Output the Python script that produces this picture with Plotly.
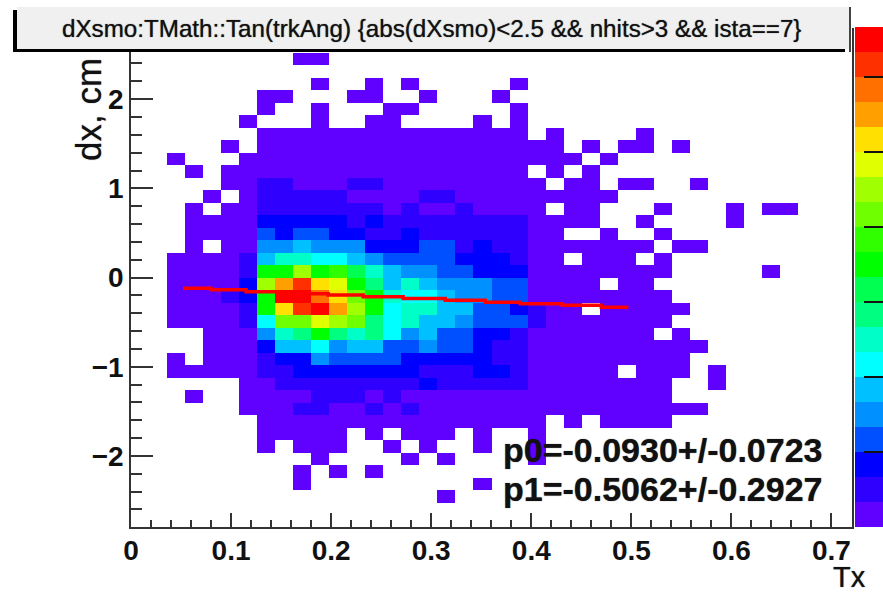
import numpy as np
import plotly.graph_objects as go

TITLE = "dXsmo:TMath::Tan(trkAng) {abs(dXsmo)<2.5 && nhits>3 && ista==7}"
X_LABEL = "Tx"
Y_LABEL = "dx, cm"
STAT_P0 = "p0=-0.0930+/-0.0723"
STAT_P1 = "p1=-0.5062+/-0.2927"

X_TICKS = [0, 0.1, 0.2, 0.3, 0.4, 0.5, 0.6, 0.7]
X_TICK_TEXT = ["<b>0</b>", "<b>0.1</b>", "<b>0.2</b>", "<b>0.3</b>", "<b>0.4</b>", "<b>0.5</b>", "<b>0.6</b>", "<b>0.7</b>"]
Y_TICKS = [-2, -1, 0, 1, 2]
Y_TICK_TEXT = ["<b>\u22122</b>", "<b>\u22121</b>", "<b>0</b>", "<b>1</b>", "<b>2</b>"]

PALETTE = ["#6000ff", "#3000ff", "#0000ff", "#0050ff", "#0090ff", "#00c0ff", "#00ffff",
           "#00ffc8", "#00ff80", "#00ff50", "#00ff00", "#30ff00", "#70ff00", "#a0ff00",
           "#e0ff00", "#ffe000", "#ffa000", "#ff7000", "#ff3000", "#ff0000"]

N_X, N_Y = 40, 40
FIRST_ROW = 2   # rows counted from the top of the histogram

# occupied column spans per row, top to bottom
occupied = [
    [(9, 10)],
    [],
    [(10, 10), (13, 13), (15, 15), (21, 21)],
    [(7, 8), (12, 13), (16, 16), (20, 20)],
    [(7, 7), (10, 10), (14, 15), (21, 21)],
    [(6, 6), (10, 10), (13, 14), (19, 19), (21, 21)],
    [(7, 21), (23, 23), (28, 28)],
    [(5, 5), (7, 23), (25, 25), (27, 28), (30, 30)],
    [(2, 2), (6, 24), (26, 26)],
    [(3, 3), (5, 21), (23, 23), (25, 25)],
    [(5, 22), (24, 25), (27, 28), (31, 31)],
    [(4, 4), (6, 26)],
    [(3, 3), (5, 22), (24, 25), (29, 29), (33, 33), (35, 36)],
    [(3, 25), (28, 28), (33, 33)],
    [(3, 23), (26, 26), (29, 29)],
    [(3, 3), (5, 28), (30, 31)],
    [(2, 23), (25, 27), (29, 29)],
    [(2, 29), (35, 35)],
    [(2, 25), (27, 28)],
    [(2, 29)],
    [(2, 24), (26, 30)],
    [(2, 29)],
    [(4, 28), (30, 30)],
    [(4, 31)],
    [(2, 2), (4, 30)],
    [(2, 26), (28, 30), (32, 32)],
    [(6, 29), (32, 32)],
    [(3, 3), (6, 29)],
    [(6, 31)],
    [(7, 22), (24, 24), (26, 29)],
    [(7, 11), (13, 13), (15, 17), (19, 19), (22, 22)],
    [(7, 7), (9, 11), (14, 14), (16, 16), (19, 19), (22, 22)],
    [(10, 10), (15, 15), (17, 17), (22, 22)],
    [(9, 9), (11, 11), (13, 13)],
    [(9, 9), (19, 19)],
    [(17, 17)],
]

# row -> (first column, colour levels); everything else occupied is level 0
core = {
    10: (7, [1, 1, 0, 0, 0, 1, 1]),
    11: (7, [1, 1, 1, 1, 1, 0, 0, 0, 0, 1, 1]),
    12: (7, [1, 1, 1, 1, 1, 1, 1, 0, 1, 0, 0, 1]),
    13: (7, [2, 2, 2, 2, 2, 1, 2, 1, 1, 1, 1, 1, 1, 1, 1]),
    14: (7, [3, 2, 3, 3, 2, 2, 1, 1, 2, 1, 1, 1, 1, 1, 1]),
    15: (7, [4, 4, 5, 4, 4, 4, 2, 2, 2, 3, 3, 1, 2, 1, 1]),
    16: (6, [1, 5, 7, 7, 6, 6, 5, 4, 3, 3, 3, 3, 2, 2, 2, 1]),
    17: (6, [1, 10, 10, 13, 10, 11, 9, 7, 5, 4, 4, 3, 3, 2, 2, 2]),
    18: (6, [2, 13, 16, 18, 15, 14, 10, 8, 5, 7, 5, 4, 4, 4, 3, 3]),
    19: (5, [1, 2, 10, 19, 19, 17, 15, 12, 10, 7, 6, 6, 5, 4, 4, 3, 3]),
    20: (6, [1, 10, 15, 18, 19, 16, 13, 10, 6, 7, 7, 5, 5, 3, 3, 2, 1]),
    21: (6, [1, 6, 12, 12, 14, 13, 12, 8, 6, 7, 5, 5, 4, 3, 3, 3, 1]),
    22: (7, [4, 7, 8, 10, 8, 7, 8, 6, 4, 5, 3, 3, 2, 2, 1]),
    23: (7, [2, 5, 5, 6, 4, 5, 5, 3, 3, 4, 3, 3, 2, 1, 1]),
    24: (7, [1, 2, 2, 4, 3, 3, 3, 3, 2, 2, 2, 2, 2, 1, 1]),
    25: (7, [1, 1, 2, 2, 2, 2, 2, 2, 2, 1, 1, 1, 2, 2, 1]),
    26: (8, [1, 1, 1, 1, 1, 1, 1, 1, 2, 1, 1, 1, 1, 1]),
    27: (10, [1, 1, 1, 0, 1]),
    28: (9, [1, 1, 0, 0, 1, 0, 1]),
}

# fitted line as drawn (stepped)
fit_x = [0.052, 0.080, 0.115, 0.156, 0.197, 0.232, 0.272, 0.314, 0.354, 0.389, 0.431, 0.470, 0.497]
fit_y = [-0.119, -0.138, -0.160, -0.181, -0.197, -0.216, -0.234, -0.254, -0.276, -0.293, -0.310, -0.333, -0.333]

COLORBAR_TICKS = [-0.5, 2.5, 5.5, 8.5, 11.5, 14.5, 17.5]

# ---------------------------------------------------------------- layout in pixels
W, H = 883, 613
ML = 10          # left margin kept so that nothing pushes the plot area sideways
L, R, T, B = 131.0, 851.5, 27.8, 527.3


def px(v):
    return (v - ML) / (W - ML)


def py(v):
    return 1 - v / H


z = np.full((N_Y, N_X), np.nan)
for i, spans in enumerate(occupied):
    for a, b in spans:
        z[i + FIRST_ROW, a:b + 1] = 0
for i, (start, levels) in core.items():
    z[i + FIRST_ROW, start:start + len(levels)] = levels
z_flipped = z[::-1]

x_edges = np.linspace(0, 0.72, N_X + 1)
y_edges = np.linspace(-2.8, 2.8, N_Y + 1)

n = len(PALETTE)
scale = []
for i, c in enumerate(PALETTE):
    scale += [[i / n, c], [(i + 1) / n, c]]

fig = go.Figure()
fig.add_trace(go.Heatmap(
    x=x_edges, y=y_edges, z=z_flipped, zmin=-0.5, zmax=n - 0.5, colorscale=scale,
    hoverongaps=False, showscale=False, xaxis="x", yaxis="y",
))
fig.add_trace(go.Scatter(x=fit_x, y=fit_y, mode="lines", line=dict(color="#ff0000", width=3.5, shape="hv"),
                         showlegend=False, xaxis="x", yaxis="y"))
# palette strip
levels = list(range(n))
fig.add_trace(go.Heatmap(
    x=[0, 1], y=np.arange(n + 1) - 0.5, z=[[v] for v in levels], zmin=-0.5, zmax=n - 0.5, colorscale=scale,
    showscale=False, xaxis="x2", yaxis="y2",
))

fig.update_layout(
    xaxis=dict(
        domain=[px(L), px(R)], anchor="y",
        range=[0, 0.72], tickmode="array", tickvals=X_TICKS, ticktext=X_TICK_TEXT,
        ticks="inside", ticklen=15, tickwidth=1.5, tickcolor="#333",
        minor=dict(ticks="inside", ticklen=8, dtick=0.02, tickwidth=1.5, tickcolor="#333", showgrid=False),
        showgrid=False, zeroline=False, showline=True, linecolor="#333", linewidth=1.5,
        tickfont=dict(family="Liberation Sans", size=28, color="#111"), ticklabelstandoff=-3,
    ),
    yaxis=dict(
        domain=[py(B), py(T)], anchor="x",
        range=[-2.8, 2.8], tickmode="array", tickvals=Y_TICKS, ticktext=Y_TICK_TEXT,
        ticks="inside", ticklen=22, tickwidth=1.5, tickcolor="#333",
        minor=dict(ticks="inside", ticklen=11, dtick=0.2, tickwidth=1.5, tickcolor="#333", showgrid=False),
        showgrid=False, zeroline=False, showline=True, linecolor="#333", linewidth=1.5, mirror=True,
        tickfont=dict(family="Liberation Sans", size=28, color="#111"),
    ),
    xaxis2=dict(domain=[px(855), 1], anchor="y2", range=[0, 1], visible=False),
    yaxis2=dict(
        domain=[py(527), py(27)], anchor="x2", side="right",
        range=[-0.5, n - 0.5], tickmode="array", tickvals=COLORBAR_TICKS, showticklabels=False,
        ticks="inside", ticklen=19, tickwidth=1.5, tickcolor="#111",
        showgrid=False, zeroline=False, showline=False,
    ),
)


def rect(x0, y0, x1, y1, color):
    return dict(type="rect", xref="paper", yref="paper", x0=px(x0), x1=px(x1), y0=py(y0), y1=py(y1),
                fillcolor=color, line=dict(width=0), layer="above")


shapes = [
    rect(17, 7, 849, 49, "#f0f0f0"),
    rect(13, 10, 17, 52, "#000000"),
    rect(13, 49, 845, 52, "#000000"),
    rect(849, 7, 851, 52, "#444444"),
]

SOFT = "0 0 1px rgba(0,0,0,0.7)"


def text(x, y, s, size, bold=False, xanchor="center", textangle=0):
    return dict(xref="paper", yref="paper", x=px(x), y=py(y), text=("<b>%s</b>" % s) if bold else s,
                showarrow=False, xanchor=xanchor, yanchor="middle", textangle=textangle,
                font=dict(family="Liberation Sans", size=size, color="#111", shadow=SOFT))


annotations = [
    text(431, 28, TITLE, 24.2),
    text(501, 449.5, STAT_P0, 34, bold=True, xanchor="left"),
    text(501, 488.5, STAT_P1, 34, bold=True, xanchor="left"),
    text(849, 577, X_LABEL, 29),
    text(88, 110, Y_LABEL, 35, textangle=-90),
]

fig.update_layout(
    width=W, height=H, autosize=False, margin=dict(l=ML, r=0, t=0, b=0, pad=0),
    paper_bgcolor="white", plot_bgcolor="white", showlegend=False,
    shapes=shapes, annotations=annotations,
)
fig.write_html("out.html", config=dict(displayModeBar=False),
               post_script="document.body.style.margin='0';")
